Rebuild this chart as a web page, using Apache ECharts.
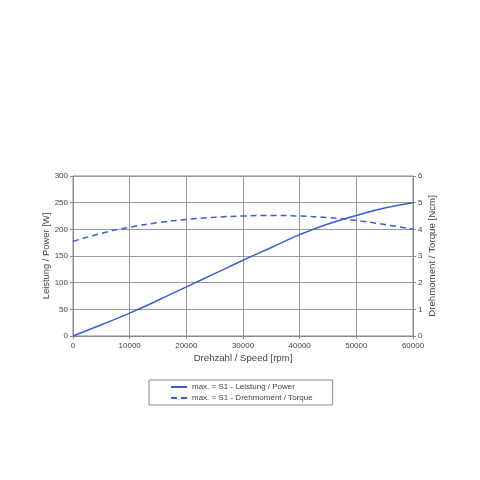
<!DOCTYPE html>
<html><head><meta charset="utf-8">
<script src="https://cdn.jsdelivr.net/npm/echarts@6/dist/echarts.min.js"></script>
<style>html,body{margin:0;padding:0;background:#fff}#c{width:480px;height:480px}</style>
</head><body><div id="c"></div>
<script>
const speeds = [0,5000,10000,15000,20000,25000,30000,35000,40000,45000,50000,55000,60000];
const power = [0,21,43,67,92,117,142,166,190,210,226,240,250];
const torque = [3.55,3.85,4.08,4.25,4.37,4.45,4.5,4.52,4.5,4.44,4.33,4.18,4.0];
const powerName = 'max. = S1 - Leistung / Power';
const torqueName = 'max. = S1 - Drehmoment / Torque';
const blue = '#3a5fcd';
const font = 'Liberation Sans, Arial, sans-serif';
const chart = echarts.init(document.getElementById('c'));
chart.setOption({
  animation:false,
  textStyle:{fontFamily:font},
  grid:{left:73,right:67,top:176,bottom:144,show:true,borderColor:'#8a8a8a',borderWidth:1},
  legend:{
    orient:'vertical',left:149,top:380,
    borderColor:'#8a8a8a',borderWidth:1,
    padding:[3,20,3,21],itemGap:3,itemWidth:16,itemHeight:6,
    itemStyle:{opacity:0},
    textStyle:{fontSize:8,color:'#444',fontFamily:font},
    data:[powerName,torqueName]
  },
  xAxis:{type:'value',min:0,max:60000,interval:10000,
    name:'Drehzahl / Speed [rpm]',nameLocation:'middle',nameGap:17,nameMoveOverlap:false,
    nameTextStyle:{fontSize:9.6,color:'#444'},
    axisLine:{lineStyle:{color:'#8a8a8a'}},axisTick:{show:true,length:3,lineStyle:{color:'#8a8a8a'}},
    axisLabel:{fontSize:8,color:'#444',margin:6,formatter:v=>String(v)},
    splitLine:{show:true,lineStyle:{color:'#9a9a9a',width:1}}},
  yAxis:[
   {type:'value',min:0,max:300,interval:50,position:'left',
    name:'Leistung / Power [W]',nameLocation:'middle',nameGap:22,nameRotate:90,nameMoveOverlap:false,
    nameTextStyle:{fontSize:9.4,color:'#444'},
    axisLine:{show:true,lineStyle:{color:'#8a8a8a'}},axisTick:{show:true,length:3,lineStyle:{color:'#8a8a8a'}},
    axisLabel:{fontSize:8,color:'#444',margin:5},
    splitLine:{show:true,lineStyle:{color:'#9a9a9a',width:1}}},
   {type:'value',min:0,max:6,interval:1,position:'right',
    name:'Drehmoment / Torque [Ncm]',nameLocation:'middle',nameGap:14,nameRotate:90,nameMoveOverlap:false,
    nameTextStyle:{fontSize:9.7,color:'#444'},
    axisLine:{show:true,lineStyle:{color:'#8a8a8a'}},axisTick:{show:true,length:3,lineStyle:{color:'#8a8a8a'}},
    axisLabel:{fontSize:8,color:'#444',margin:5},
    splitLine:{show:false}}
  ],
  series:[
   {name:powerName,type:'line',yAxisIndex:0,smooth:true,symbol:'none',
    data:speeds.map((s,i)=>[s,power[i]]),
    itemStyle:{color:blue},lineStyle:{color:blue,width:1.5}},
   {name:torqueName,type:'line',yAxisIndex:1,smooth:true,symbol:'none',
    data:speeds.map((s,i)=>[s,torque[i]]),
    itemStyle:{color:blue},lineStyle:{color:blue,width:1.5,type:[6,4]}}
  ]
});
</script></body></html>
